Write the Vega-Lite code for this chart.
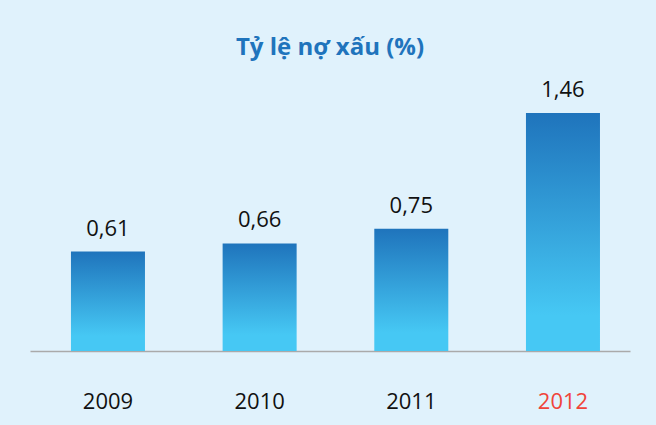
{
  "$schema": "https://vega.github.io/schema/vega-lite/v6.json",
  "autosize": "none",
  "width": 600,
  "height": 271,
  "padding": {"left": 30, "top": 80, "right": 26, "bottom": 74},
  "background": "#e0f2fc",
  "title": {
    "text": "Tỷ lệ nợ xấu (%)",
    "font": "Open Sans",
    "fontSize": 24,
    "fontWeight": "bold",
    "color": "#1f74bc",
    "anchor": "middle",
    "offset": 19
  },
  "data": {
    "values": [
      {"year": "2009", "value": 0.61},
      {"year": "2010", "value": 0.66},
      {"year": "2011", "value": 0.75},
      {"year": "2012", "value": 1.46}
    ]
  },
  "config": {
    "view": {"stroke": null},
    "locale": {
      "number": {"decimal": ",", "thousands": ".", "grouping": [3], "currency": ["", ""]}
    }
  },
  "encoding": {
    "x": {
      "field": "year",
      "type": "nominal",
      "scale": {"paddingInner": 0.512, "paddingOuter": 0.234, "align": 0.577},
      "axis": {
        "title": null,
        "labelAngle": 0,
        "ticks": false,
        "domainColor": "#aaaaaa",
        "domainWidth": 1.5,
        "labelBaseline": "alphabetic",
        "labelPadding": 57,
        "labelFont": "Open Sans",
        "labelFontSize": 22,
        "labelColor": {"expr": "datum.value == '2012' ? '#f0443a' : '#111111'"}
      }
    },
    "y": {
      "field": "value",
      "type": "quantitative",
      "scale": {"domain": [0, 1.663]},
      "axis": null
    }
  },
  "layer": [
    {
      "mark": {
        "type": "bar",
        "color": {
          "gradient": "linear",
          "x1": 0, "y1": 0, "x2": 0, "y2": 1,
          "stops": [
            {"offset": 0, "color": "#1f74bc"},
            {"offset": 0.85, "color": "#46c8f4"},
            {"offset": 1, "color": "#46c8f4"}
          ]
        }
      }
    },
    {
      "mark": {
        "type": "text",
        "baseline": "alphabetic",
        "dy": -16,
        "font": "Open Sans",
        "fontSize": 22,
        "color": "#111111"
      },
      "encoding": {
        "text": {"field": "value", "type": "quantitative", "format": ".2f"}
      }
    }
  ]
}
